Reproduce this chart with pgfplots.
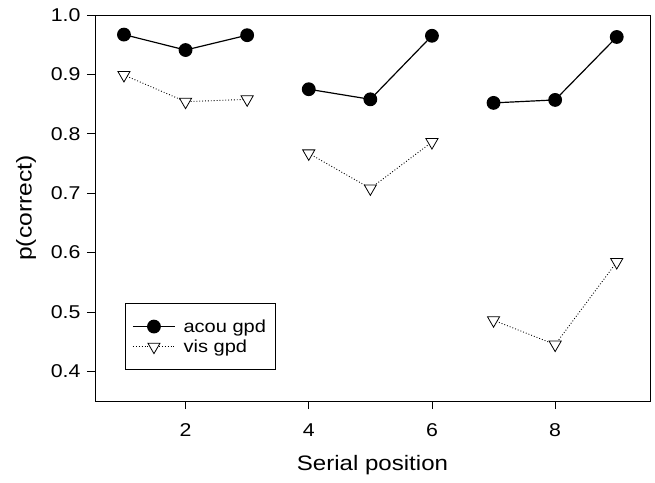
\documentclass[border=0pt]{standalone}
\usepackage{pgfplots}
\pgfplotsset{compat=1.18}
\usepackage{fontspec}
\setmainfont{Liberation Sans}[FakeStretch=1.15]
\begin{document}
\begin{tikzpicture}
\begin{axis}[
  name=main,
  scale only axis, width=555bp, height=386bp,
  xmin=0.53, xmax=9.54, ymin=0.35, ymax=1.0,
  xtick={2,4,6,8}, ytick={0.4,0.5,0.6,0.7,0.8,0.9,1.0},
  yticklabel style={/pgf/number format/fixed, /pgf/number format/fixed zerofill, /pgf/number format/precision=1, xshift=-3bp},
  xticklabel style={yshift=-11bp},
  /pgf/number format/assume math mode=true,
  tick align=outside, tick pos=left, major tick length=8bp,
  tick style={line width=0.8pt, black},
  tick label style={font=\fontsize{18.6}{21}\selectfont},
  xlabel={Serial position}, ylabel={p(correct)},
  every axis x label/.style={at={(axis description cs:0.5,-0.179)}, anchor=base, font=\fontsize{21}{24}\selectfont},
  every axis y label/.style={at={(axis description cs:-0.1,0.5)}, anchor=south, rotate=90, font=\fontsize{21.5}{24}\selectfont},
  axis line style={line width=1pt},
  unbounded coords=jump,
  legend style={at={(0.054,0.08)}, anchor=south west, font=\fontsize{17.5}{20}\selectfont, draw=black, line width=0.8pt, inner xsep=7bp, inner ysep=14bp, row sep=2bp, /tikz/every odd column/.append style={column sep=6bp}},
  legend cell align=left,
  legend image code/.code={\draw[#1, mark repeat=2, mark phase=2] plot coordinates {(0bp,0bp) (21bp,0bp) (42bp,0bp)};},
]
\addplot[black, line width=1.2pt, mark=*, mark size=6.3bp] table[row sep=\\] {
x y\\ 1 0.967\\ 2 0.941\\ 3 0.966\\ 3.5 nan\\ 4 0.875\\ 5 0.858\\ 6 0.965\\ 6.5 nan\\ 7 0.852\\ 8 0.857\\ 9 0.963\\
};
\addlegendentry{acou gpd}
\addplot[black, dotted, line width=0.9pt, mark=triangle*, mark size=7bp, mark options={solid, fill=white, rotate=180, line width=0.8pt}] table[row sep=\\] {
x y\\ 1 0.899\\ 2 0.854\\ 3 0.858\\ 3.5 nan\\ 4 0.767\\ 5 0.708\\ 6 0.786\\ 6.5 nan\\ 7 0.486\\ 8 0.445\\ 9 0.584\\
};
\addlegendentry{vis gpd}
\end{axis}
\path ([xshift=-95bp,yshift=-81bp]main.south west) rectangle ([xshift=5bp,yshift=15bp]main.north east);
\end{tikzpicture}
\end{document}
